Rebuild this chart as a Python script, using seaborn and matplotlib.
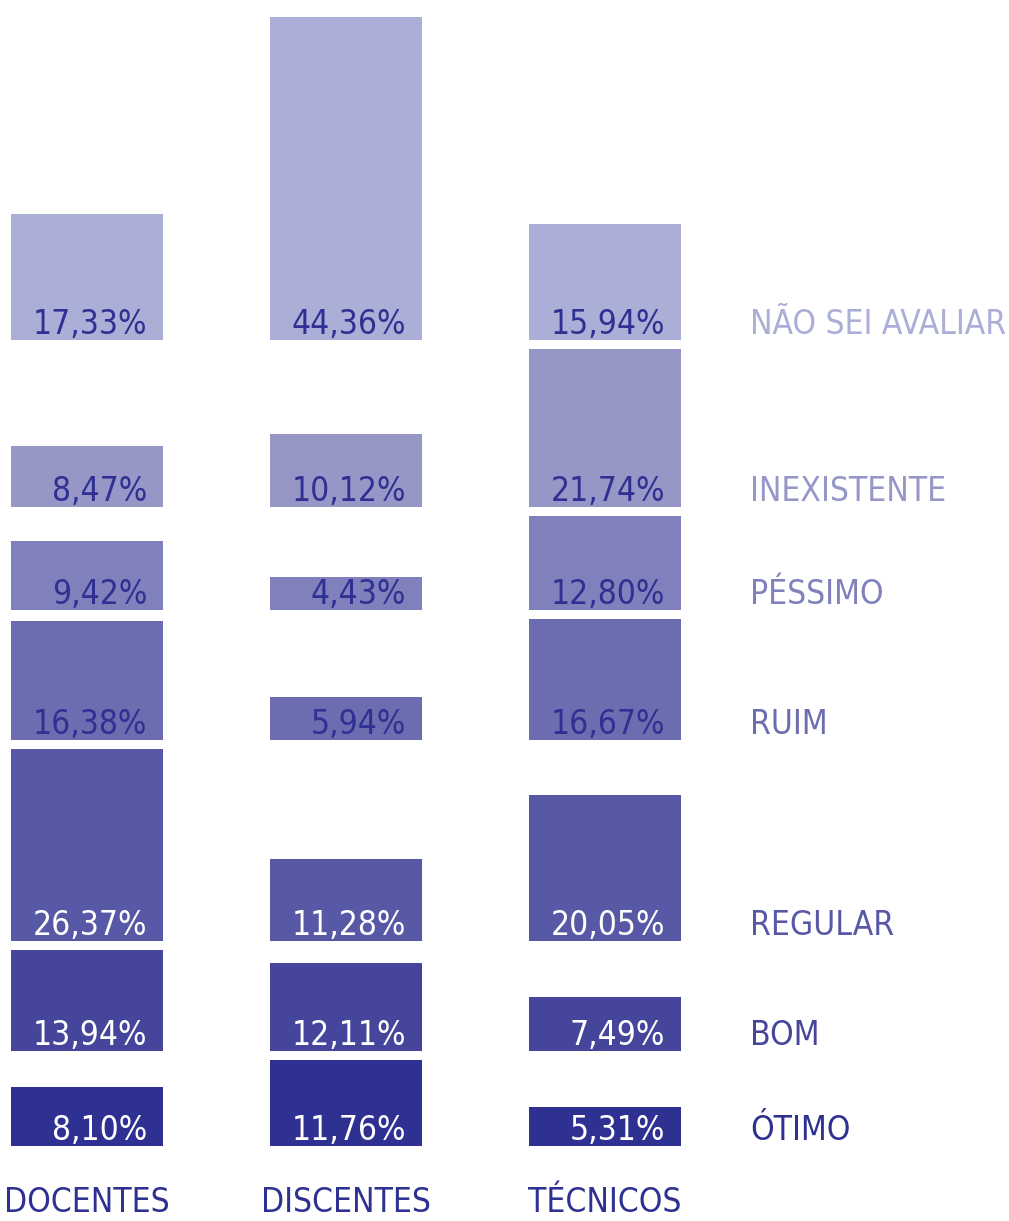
import matplotlib
matplotlib.use("Agg")
import matplotlib.pyplot as plt
import seaborn as sns
from matplotlib import font_manager as fm

grupos = ["DOCENTES", "DISCENTES", "TÉCNICOS"]
# rows from bottom to top
avaliacoes = ["ÓTIMO", "BOM", "REGULAR", "RUIM", "PÉSSIMO", "INEXISTENTE", "NÃO SEI AVALIAR"]
otimo = [8.10, 11.76, 5.31]
bom = [13.94, 12.11, 7.49]
regular = [26.37, 11.28, 20.05]
ruim = [16.38, 5.94, 16.67]
pessimo = [9.42, 4.43, 12.80]
inexistente = [8.47, 10.12, 21.74]
nao_sei = [17.33, 44.36, 15.94]
linhas = [otimo, bom, regular, ruim, pessimo, inexistente, nao_sei]

cores = ["#2e3092", "#44459b", "#5859a6", "#6c6db0", "#8080bc", "#9696c7", "#abaed6"]
cor_texto = ["white", "white", "white", "#2e3192", "#2e3192", "#2e3192", "#2e3192"]

sns.set_style("white")
plt.rcParams["font.family"] = ["DejaVu Sans"]

# use the condensed cut of DejaVu if it is installed
caminho = fm.findfont(fm.FontProperties(family="DejaVu Sans", stretch="condensed"))
if "Condensed" in caminho:
    estilo = dict(fontstretch="condensed")
    tam = 24
else:
    estilo = {}
    tam = 22

fig = plt.figure(figsize=(10.09, 12.21), dpi=100)
ax = fig.add_axes([0, 0, 1, 1])

gap = 1.236
base = 0.0
for i, vals in enumerate(linhas):
    sns.barplot(x=grupos, y=vals, color=cores[i], saturation=1, width=0.587,
                bottom=base, ax=ax, linewidth=0)
    for j, v in enumerate(vals):
        ax.text(j + 0.232, base + 0.82, f"{v:.2f}%".replace(".", ","),
                ha="right", va="baseline", fontsize=tam, color=cor_texto[i], **estilo)
    ax.text(2.56, base + 0.82, avaliacoes[i], ha="left", va="baseline",
            fontsize=tam, color=cores[i], **estilo)
    base += max(vals) + gap

for j, g in enumerate(grupos):
    ax.text(j, -9.1, g, ha="center", va="baseline", fontsize=tam, color="#2e3192", **estilo)

ax.set_xlim(-0.336, 3.56)
ax.set_ylim(-10.3, 157.4)
ax.axis("off")

fig.savefig("out.png", dpi=100)
